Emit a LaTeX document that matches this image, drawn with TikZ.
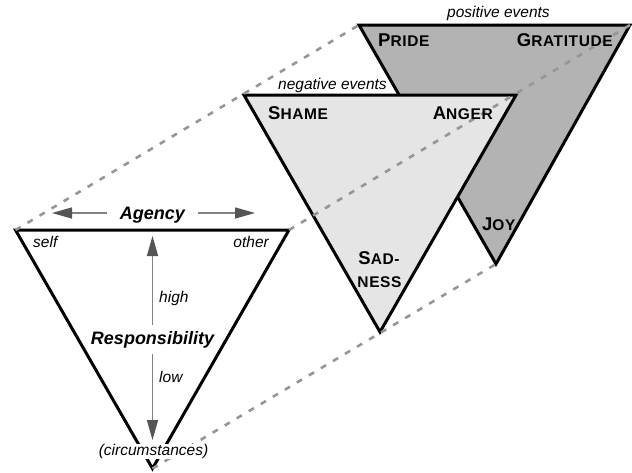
\documentclass[tikz,border=0pt]{standalone}
\usepackage{fontspec}
\setmainfont{Liberation Sans}
\usetikzlibrary{arrows.meta}
\definecolor{lightfill}{RGB}{229,229,229}
\definecolor{darkfill}{RGB}{179,179,179}
\definecolor{dashgray}{RGB}{150,150,150}
\definecolor{arrline}{RGB}{130,130,130}
\definecolor{arrhead}{RGB}{85,85,85}
\newcommand\SmCap[2]{{\fontsize{18.5}{20}\selectfont\bfseries #1}{\fontsize{15.5}{18}\selectfont\bfseries\addfontfeature{LetterSpace=4}#2}}
\tikzset{
  tri/.style={line width=3pt, draw=black, line join=miter},
  conn/.style={draw=dashgray, line width=2.6pt, dash pattern=on 6pt off 8pt},
  arr/.style={draw=arrline, line width=1.5pt, -{Triangle[length=20pt,width=11pt,color=arrhead]}},
  lab/.style={font=\fontsize{15.5}{18}\selectfont\itshape, inner sep=1pt},
  biglab/.style={font=\fontsize{18}{21}\selectfont\bfseries\itshape, inner sep=3pt},
  emo/.style={inner sep=1pt},
}
\begin{document}
\begin{tikzpicture}[x=1pt,y=-1pt]
\useasboundingbox (0,0) rectangle (632,472);
% vertices
\coordinate (aL) at (15.5,230);
\coordinate (aR) at (289,230);
\coordinate (aB) at (152.5,468.5);
\coordinate (nL) at (244,95);
\coordinate (nR) at (516,95);
\coordinate (nB) at (380,332);
\coordinate (pL) at (359,25);
\coordinate (pR) at (630,25);
\coordinate (pB) at (496,264);
% triangles
\filldraw[tri, fill=darkfill] (pL) -- (pR) -- (pB) -- cycle;
\filldraw[tri, fill=lightfill] (nL) -- (nR) -- (nB) -- cycle;
\filldraw[tri, fill=white] (aL) -- (aR) -- (aB) -- cycle;
% dashed connectors
\draw[conn] (aL) -- (pL);
\draw[conn] (aR) -- (pR);
\draw[conn] (aB) -- (pB);
% emotion labels
\node[emo, anchor=base west] (pride) at (377,46) {\SmCap{P}{RIDE}};
\node[emo, anchor=base east] (grat) at (614,46) {\SmCap{G}{RATITUDE}};
\node[emo, anchor=base west] (shame) at (267,119) {\SmCap{S}{HAME}};
\node[emo, anchor=base east] (anger) at (494,119) {\SmCap{A}{NGER}};
\node[emo, anchor=base] (sad1) at (379,264) {\SmCap{S}{AD-}};
\node[emo, anchor=base] (sad2) at (379.5,287) {\SmCap{}{NESS}};
\node[emo, anchor=base west] (joy) at (481,230) {\SmCap{J}{OY}};
\node[lab, anchor=base west] (neg) at (277,89) {negative events};
\node[lab, anchor=base west] (pos) at (446,17) {positive events};
% agency / responsibility
\node[biglab, anchor=base] (agency) at (152.5,219) {Agency};
\coordinate (agL) at (52,213);
\coordinate (agR) at (255,213);
\draw[arr, shorten <=10pt] (agency.west |- agL) -- (agL);
\draw[arr, shorten <=10pt] (agency.east |- agR) -- (agR);
\node[lab, anchor=base west] (self) at (32,247) {self};
\node[lab, anchor=base east] (other) at (270,247) {other};
\node[biglab, anchor=base] (resp) at (152.5,344) {Responsibility};
\coordinate (rTop) at (152.5,236);
\coordinate (rBot) at (152.5,440);
\draw[arr, shorten <=3pt] (resp.north) -- (rTop);
\draw[arr, shorten <=3pt] (resp.south) -- (rBot);
\node[lab, anchor=base west] (high) at (158,302) {high};
\node[lab, anchor=base west] (low) at (158,382) {low};
\node[lab, anchor=base, fill=white, inner sep=0.5pt] (circ) at (153.5,455.5) {(circumstances)};
\end{tikzpicture}
\end{document}
